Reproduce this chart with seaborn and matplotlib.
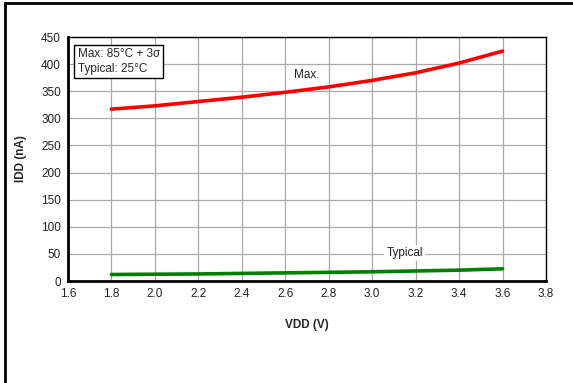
import seaborn as sns
import pandas as pd
import matplotlib.pyplot as plt
from matplotlib.patches import Rectangle

# data
vdd = [1.8, 2.0, 2.2, 2.4, 2.6, 2.8, 3.0, 3.2, 3.4, 3.6]
idd_max = [317, 323, 331, 339, 348, 358, 370, 384, 402, 424]
idd_typ = [12, 12.5, 13, 14, 15, 16, 17, 18.5, 20, 22.5]

df = pd.DataFrame({'vdd': vdd * 2,
                   'idd': idd_max + idd_typ,
                   'curve': ['Max.'] * len(vdd) + ['Typical'] * len(vdd)})

sns.set_style('white')
plt.rcParams['font.family'] = ['Liberation Sans', 'DejaVu Sans']

fig = plt.figure(figsize=(5.73, 3.83), dpi=100)
ax = fig.add_axes([68 / 573, 1 - 281 / 383, (546 - 68) / 573, (281 - 37) / 383])

sns.lineplot(data=df, x='vdd', y='idd', hue='curve',
             palette={'Max.': '#ff0000', 'Typical': '#008000'},
             linewidth=2.6, legend=False, ax=ax)

ax.set_xlim(1.6, 3.8)
ax.set_ylim(0, 450)
ax.set_xticks([1.6 + 0.2 * i for i in range(12)])
ax.set_xticklabels([f'{1.6 + 0.2 * i:.1f}' for i in range(12)])
ax.set_yticks(range(0, 451, 50))
ax.tick_params(labelsize=8.5, length=0, pad=5, colors='#222222')
ax.grid(True, color='#a8a8a8', linewidth=0.9)
ax.set_axisbelow(True)

for s in ['left', 'bottom']:
    ax.spines[s].set_linewidth(2)
    ax.spines[s].set_color('black')
for s in ['top', 'right']:
    ax.spines[s].set_linewidth(1)
    ax.spines[s].set_color('black')

ax.set_xlabel('VDD (V)', fontsize=8.5, fontweight='bold', labelpad=14)
ax.set_ylabel('IDD (nA)', fontsize=8.5, fontweight='bold', labelpad=10)

# curve labels
ax.text(2.70, 380, 'Max.', fontsize=8.5, ha='center', va='center', color='#222222')
ax.text(3.15, 51, 'Typical', fontsize=8.5, ha='center', va='center', color='#222222',
        bbox=dict(facecolor='white', edgecolor='none', pad=1.5))

# condition box
ax.text(0.02, 0.953, 'Max: 85°C + 3σ\nTypical: 25°C', transform=ax.transAxes,
        fontsize=8.5, ha='left', va='top', linespacing=1.25,
        bbox=dict(facecolor='white', edgecolor='black', linewidth=1, pad=2.5))

# outer frame
fig.patches.append(Rectangle((4.5 / 573, -0.1), 1.2, 1 - 2.5 / 383 + 0.1,
                             transform=fig.transFigure, fill=False,
                             edgecolor='black', linewidth=2))

fig.savefig('out.png', dpi=100)
